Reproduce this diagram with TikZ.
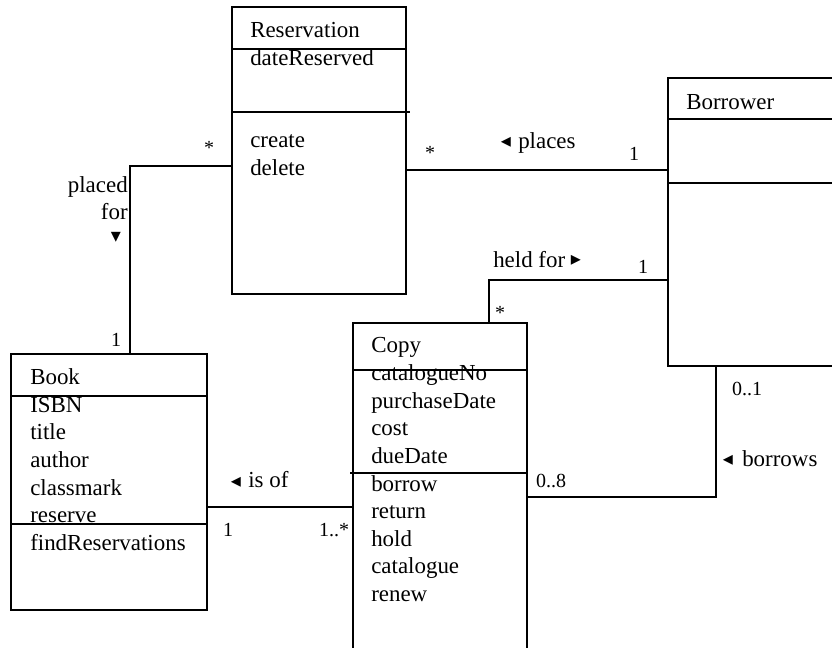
\documentclass[tikz,border=0pt]{standalone}
\usepackage{fontspec}
\setmainfont{Liberation Serif}
\newfontfamily\symfont{DejaVu Sans}

\begin{document}
\begin{tikzpicture}[x=0.75pt,y=-0.75pt,
  classbox/.style={draw, line width=1pt, inner sep=0pt},
  divider/.style={line width=1.3pt},
  assoc/.style={line width=1.3pt},
  member/.style={anchor=base west, inner sep=0pt, font=\fontsize{17.2}{20.6}\selectfont},
  mult/.style={anchor=base, inner sep=0pt, font=\fontsize{15}{18}\selectfont},
  dirmark/.style={inner sep=0pt, font=\symfont\fontsize{15}{15}\selectfont}]

\useasboundingbox (0,0) rectangle (832,648);
\clip (0,0) rectangle (832,648);

%classes
\node[classbox, minimum width=130.5pt, minimum height=215.25pt] (res) at (319,150.5) {};
\node[classbox, minimum width=132.75pt, minimum height=216pt] (bor) at (756.5,222) {};
\node[classbox, minimum width=130.5pt, minimum height=252.75pt] (copy) at (440,491.5) {};
\node[classbox, minimum width=147pt, minimum height=192pt] (book) at (109,482) {};

%compartments
\draw[divider] (res.west |- 0,49) -- (res.east |- 0,49);
\draw[divider] (res.west |- 0,112) -- (410,112);
\draw[divider] (bor.west |- 0,119) -- (bor.east |- 0,119);
\draw[divider] (bor.west |- 0,183) -- (bor.east |- 0,183);
\draw[divider] (copy.west |- 0,370) -- (copy.east |- 0,370);
\draw[divider] (350,473) -- (copy.east |- 0,473);
\draw[divider] (book.west |- 0,396) -- (book.east |- 0,396);
\draw[divider] (book.west |- 0,524) -- (book.east |- 0,524);

%attributes et operations
\foreach \m [count=\i from 0] in {Reservation,dateReserved}
  \node[member] (res-a\i) at (250,38+27.5*\i) {\m};
\foreach \m [count=\i from 0] in {create,delete}
  \node[member] (res-o\i) at (250,148+27.5*\i) {\m};
\node[member] (bor-name) at (686,110) {Borrower};
\foreach \m [count=\i from 0] in {Copy,catalogueNo,purchaseDate,cost,dueDate,borrow,return,hold,catalogue,renew}
  \node[member] (copy-\i) at (371,353+27.6*\i) {\m};
\foreach \m [count=\i from 0] in {Book,ISBN,title,author,classmark,reserve,findReservations}
  \node[member] (book-\i) at (30,385+27.5*\i) {\m};

%associations
\coordinate (pfbend) at (130,166);
\coordinate (plc) at (540,170);
\coordinate (hfbend) at (489,280);
\coordinate (isof) at (280,507);
\coordinate (brbend) at (716,497);
\draw[assoc] (res.west |- pfbend) -- (pfbend) -- (book.north -| pfbend);
\draw[assoc] (res.east |- plc) -- (bor.west |- plc);
\draw[assoc] (copy.north -| hfbend) -- (hfbend) -- (bor.west |- hfbend);
\draw[assoc] (book.east |- isof) -- (copy.west |- isof);
\draw[assoc] (copy.east |- brbend) -- (brbend) -- (bor.south -| brbend);

%placed for
\node[mult] (pf-many) at (209,155) {*};
\node[member, anchor=base east] (pf-txt1) at (128,193) {placed};
\node[member, anchor=base east] (pf-txt2) at (128,220) {for};
\node[dirmark] (pf-dir) at (116,237) {▾};
\node[mult] (pf-one) at (116,347) {1};

%places
\node[mult] (pl-many) at (430,160) {*};
\node[dirmark] (pl-dir) at (506,142.5) {◂};
\node[member] (pl-txt) at (518,149) {places};
\node[mult] (pl-one) at (634,161) {1};

%held for
\node[member] (hf-txt) at (493,268) {held for};
\node[dirmark] (hf-dir) at (576,260) {▸};
\node[mult] (hf-one) at (643,274) {1};
\node[mult] (hf-many) at (500,320) {*};

%is of
\node[dirmark] (io-dir) at (236,482) {◂};
\node[member] (io-txt) at (248,488) {is of};
\node[mult] (io-one) at (228,537) {1};
\node[mult] (io-many) at (334,537) {1..*};

%borrows
\node[mult] (br-many) at (551,488) {0..8};
\node[mult] (br-one) at (747,396) {0..1};
\node[dirmark] (br-dir) at (728,460) {◂};
\node[member] (br-txt) at (742,467) {borrows};

\end{tikzpicture}
\end{document}
